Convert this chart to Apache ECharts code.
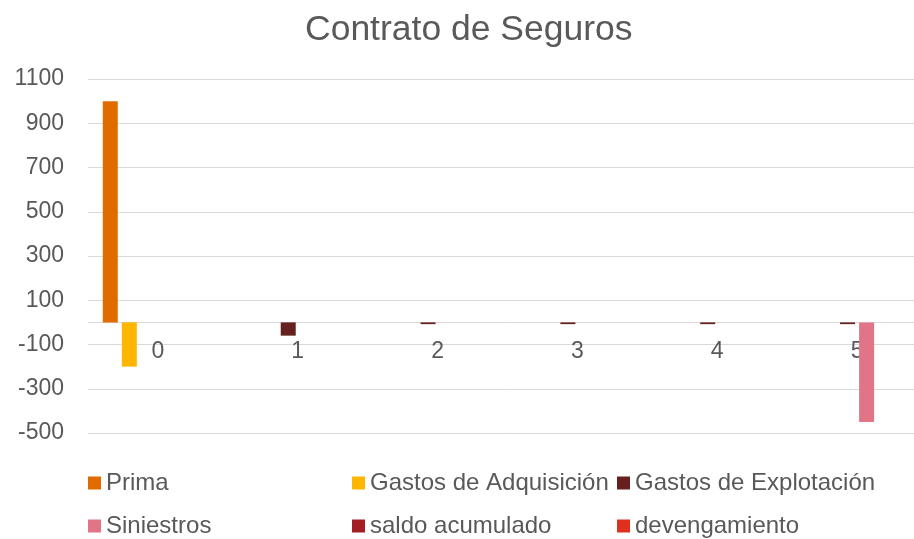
<!DOCTYPE html>
<html>
<head>
<meta charset="utf-8">
<script src="https://cdn.jsdelivr.net/npm/echarts@6/dist/echarts.min.js"></script>
<style>
html,body{margin:0;padding:0;background:#fff;overflow:hidden;width:914px;height:539px;}
#c{width:927px;height:539px;}
</style>
</head>
<body>
<div id="c"></div>
<script>
const categories = ['0', '1', '2', '3', '4', '5'];
const prima = [1000, null, null, null, null, null];
const gastosAdquisicion = [-200, null, null, null, null, null];
const gastosExplotacion = [null, -60, -8, -8, -8, -8];
const siniestros = [null, null, null, null, null, -450];
const saldoAcumulado = [null, null, null, null, null, null];
const devengamiento = [null, null, null, null, null, null];
const seriesNames = ['Prima', 'Gastos de Adquisición', 'Gastos de Explotación', 'Siniestros', 'saldo acumulado', 'devengamiento'];
const yTickLabels = [-500, -300, -100, 100, 300, 500, 700, 900, 1100];

const colors = ['#E06C00', '#FFB600', '#65201F', '#E27487', '#A21E22', '#E0301E'];
const seriesData = [prima, gastosAdquisicion, gastosExplotacion, siniestros, saldoAcumulado, devengamiento];
const FONT = '"Liberation Sans", Arial, sans-serif';
const TXT = '#595959';
const GRID = '#d9d9d9';

const Y_MIN = -500, Y_MAX = 1100;
const GRID_TOP = 79, GRID_BOTTOM = 106;
const plotH = 539 - GRID_TOP - GRID_BOTTOM;
const zeroOffset = -plotH * (0 - Y_MIN) / (Y_MAX - Y_MIN);

const legendPos = [
  [88, 471], [352, 471], [617, 471],
  [88, 514], [352, 514], [617, 514]
];

const chart = echarts.init(document.getElementById('c'), null, {renderer: 'canvas'});
chart.setOption({
  animation: false,
  backgroundColor: '#fff',
  color: colors,
  title: {
    text: 'Contrato de Seguros',
    left: 300,
    top: 7,
    textStyle: {fontFamily: FONT, fontSize: 35.5, fontWeight: 'normal', color: TXT}
  },
  legend: seriesNames.map((n, i) => ({
    data: [n],
    left: legendPos[i][0],
    top: legendPos[i][1],
    padding: 0,
    icon: 'rect',
    itemWidth: 13,
    itemHeight: 13,
    itemGap: 6,
    selectedMode: false,
    textStyle: {fontFamily: FONT, fontSize: 24, color: TXT, padding: [0, 0, 0, 0]}
  })),
  grid: {left: 88, right: 0, top: GRID_TOP, bottom: GRID_BOTTOM, containLabel: false},
  xAxis: {
    type: 'category',
    data: categories,
    position: 'bottom',
    offset: zeroOffset,
    axisLine: {onZero: false, lineStyle: {color: GRID, width: 1}},
    axisTick: {show: false},
    axisLabel: {fontFamily: FONT, fontSize: 23, color: TXT, margin: 18}
  },
  yAxis: {
    type: 'value',
    min: Y_MIN,
    max: Y_MAX,
    interval: 100,
    axisLine: {show: false},
    axisTick: {show: false},
    axisLabel: {
      fontFamily: FONT, fontSize: 23, color: TXT, margin: 24,
      formatter: v => (yTickLabels.indexOf(v) >= 0 ? String(v) : '')
    },
    splitLine: {show: true, lineStyle: {color: [GRID, 'rgba(0,0,0,0)'], width: 1}}
  },
  series: seriesNames.map((n, i) => ({
    name: n,
    type: 'bar',
    data: seriesData[i],
    barWidth: 15,
    barGap: '27%',
    itemStyle: {color: colors[i]}
  }))
});
</script>
</body>
</html>
